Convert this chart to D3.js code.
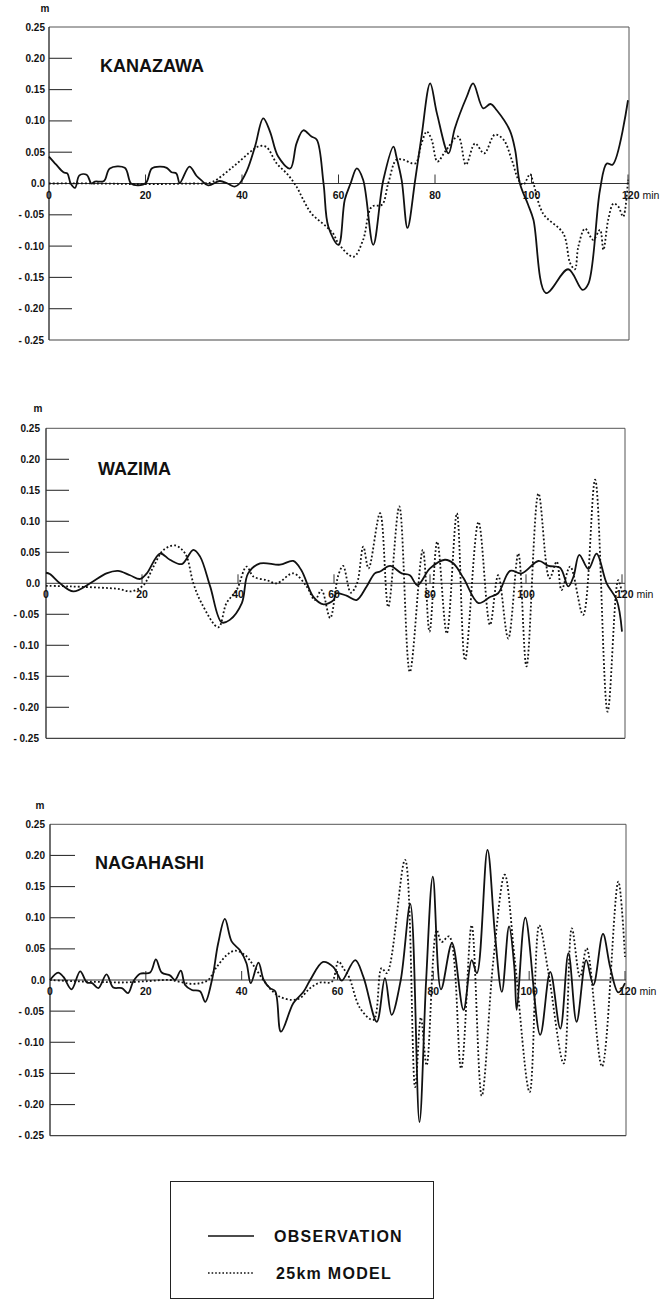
<!DOCTYPE html>
<html><head><meta charset="utf-8">
<script src="https://cdn.jsdelivr.net/npm/d3@7"></script>
<style>body{margin:0;background:#fff;} svg{display:block;} text{font-family:"Liberation Sans",Arial,sans-serif;}</style>
</head><body>
<svg id="chart" width="672" height="1306"></svg>
<script>
// ---------------- DATA ----------------
const stationNames = ["KANAZAWA", "WAZIMA", "NAGAHASHI"];
const xTickValues = [0, 20, 40, 60, 80, 100, 120];
const yTickValues = [0.25, 0.20, 0.15, 0.10, 0.05, 0.0, -0.05, -0.10, -0.15, -0.20, -0.25];
const legendLabels = ["OBSERVATION", "25km MODEL"];

// KANAZAWA observation  [minute, metres]
const kanazawaObs = [[0,0.043],[1.5,0.03],[3,0.018],[3.8,0.016],[4.5,0.0],[5.4,-0.007],[6.3,0.013],[7.8,0.014],[8.8,0.0],[9.5,0.003],[11.4,0.004],[12.6,0.024],[15.7,0.025],[17,0.0],[18.5,-0.003],[20.1,0.001],[21.3,0.024],[23,0.027],[24.4,0.025],[25.4,0.018],[26.4,0.016],[27.1,0.001],[29.1,0.027],[30.6,0.012],[31.6,0.005],[33,-0.003],[35.4,0.004],[37,0.0],[38.5,-0.005],[39.5,0.0],[41,0.02],[42.7,0.059],[44.4,0.104],[45.8,0.083],[47.5,0.043],[50,0.024],[51.3,0.064],[52.7,0.085],[54.4,0.075],[55.5,0.07],[56.9,0.0],[57.9,-0.069],[60,-0.098],[61.3,-0.026],[62.5,0.0],[63.8,0.024],[65.1,0.006],[67.2,-0.098],[69.3,0.006],[71.4,0.059],[72,0.043],[73.1,0.005],[74.3,-0.071],[75.9,0.006],[77.2,0.075],[79,0.16],[80.4,0.112],[82.8,0.048],[84.1,0.088],[86.6,0.139],[87.9,0.16],[90,0.12],[91.5,0.127],[92.8,0.117],[95.5,0.085],[96.6,0.054],[97.6,0.0],[99.3,-0.034],[100.4,-0.058],[103,-0.175],[107.6,-0.137],[110.6,-0.17],[111.8,-0.16],[114.2,-0.01],[115.6,0.032],[116.8,0.03],[120,0.133]];
// KANAZAWA 25km model
const kanazawaModel = [[0,0.0],[10,0.0],[20,-0.001],[30,0.0],[32,0.0],[34,0.003],[38.2,0.027],[42.3,0.054],[43.7,0.06],[45.1,0.058],[47.2,0.032],[49.4,0.015],[51.3,-0.005],[52.7,-0.026],[54.4,-0.048],[57.5,-0.069],[58.9,-0.08],[60,-0.096],[63.1,-0.117],[65.1,-0.09],[66.9,-0.037],[69,-0.034],[70.3,0.0],[72,0.038],[73.4,0.038],[75.9,0.032],[77.2,0.064],[78.3,0.083],[79.3,0.07],[80.5,0.035],[82.1,0.051],[84.8,0.075],[86.4,0.03],[88.3,0.064],[90.2,0.048],[92.4,0.078],[94.2,0.07],[95.9,0.038],[97.3,0.006],[98.3,-0.002],[99.7,0.015],[100.4,0.0],[102.4,-0.048],[106.6,-0.08],[108,-0.127],[109,-0.137],[109.7,-0.101],[111.1,-0.072],[112.8,-0.09],[114.2,-0.074],[114.9,-0.106],[115.9,-0.058],[117,-0.032],[118,-0.037],[119,-0.053],[120,0.006]];

// WAZIMA observation
const wazimaObs = [[0,0.017],[0.8,0.015],[2.9,0.0],[5.7,-0.013],[9.2,0.0],[12.6,0.016],[15,0.02],[17.5,0.013],[19.6,0.007],[21,0.016],[23.75,0.048],[25.8,0.038],[28.3,0.031],[30.7,0.054],[32.1,0.043],[34.2,-0.005],[36.6,-0.063],[38.3,-0.059],[40.8,-0.032],[42.1,0.016],[44.6,0.032],[48.75,0.03],[51.5,0.036],[53.2,0.021],[55.7,-0.022],[57.8,-0.034],[59.9,-0.027],[60.5,-0.016],[62.6,-0.02],[64.7,-0.027],[66.8,-0.005],[68.5,0.016],[69.6,0.019],[71.7,0.028],[74.1,0.016],[75.8,0.013],[77.4,-0.003],[80,0.024],[83.1,0.038],[84.9,0.032],[87,0.008],[90.1,-0.032],[92.5,-0.022],[94.2,-0.016],[96.7,0.02],[99.1,0.016],[102.6,0.036],[104.7,0.028],[107.1,0.025],[108.8,-0.005],[109.9,0.011],[111.1,0.046],[113,0.023],[114.7,0.048],[116.8,0.0],[118.9,-0.027],[120,-0.078]];
// WAZIMA 25km model
const wazimaModel = [[0,-0.004],[5,-0.005],[11.25,-0.007],[15,-0.009],[17.8,-0.013],[20.3,-0.003],[22.4,0.027],[24.5,0.054],[26.9,0.061],[29,0.048],[30.7,0.0],[32.4,-0.032],[35.9,-0.071],[37.6,-0.032],[39.7,-0.011],[41.8,0.027],[43.2,0.011],[46,0.005],[48.1,0.0],[51.5,0.016],[54.3,-0.005],[56,-0.027],[57.4,-0.011],[59.2,-0.056],[60.9,0.013],[61.9,0.028],[63.5,-0.015],[64.8,0.0],[66.1,0.059],[67.2,0.024],[69.6,0.113],[71.3,-0.038],[73.6,0.124],[75.8,-0.143],[78.5,0.054],[79.9,-0.078],[81.5,0.067],[83.5,-0.081],[85.6,0.113],[87.3,-0.124],[90.1,0.099],[92.5,-0.067],[94.2,0.013],[96.3,-0.089],[98.4,0.048],[100.1,-0.134],[102.6,0.145],[104.9,0.008],[106.4,0.035],[107.4,-0.011],[109.2,0.027],[111.9,-0.051],[114.4,0.167],[117,-0.207],[119.2,0.005],[120,-0.015]];

// NAGAHASHI observation
const nagahashiObs = [[0,0.0],[1.7,0.012],[2.8,0.005],[4.5,-0.015],[6.3,0.014],[7.7,-0.004],[8.8,-0.005],[10.1,-0.013],[11.8,0.009],[13.2,-0.012],[15,-0.013],[16.3,-0.021],[17.4,-0.002],[18.8,0.01],[20.9,0.012],[22.1,0.033],[23.3,0.012],[25.1,0.007],[26.1,0.0],[27.3,0.015],[28.2,-0.008],[29.6,-0.016],[31.3,-0.018],[32.4,-0.035],[33.8,0.0],[35.1,0.059],[36.5,0.098],[37.9,0.062],[39.6,0.048],[41,0.027],[41.9,-0.005],[43.5,0.028],[44.6,0.0],[45.9,-0.013],[47,-0.018],[48.2,-0.083],[50.8,-0.037],[52.9,-0.019],[54.3,0.0],[57,0.029],[59.1,0.021],[60.1,0.008],[60.9,-0.001],[63.7,0.032],[65.4,0.005],[68.2,-0.067],[69.9,0.003],[71.3,-0.056],[73.2,0.0],[75.2,0.122],[77.1,-0.228],[78.5,0.0],[79.9,0.166],[81.6,-0.015],[83.9,0.059],[86.3,-0.048],[88,0.032],[89.1,0.011],[91.3,0.209],[92.9,0.07],[94.3,-0.019],[95.8,0.086],[96.9,0.021],[97.4,-0.048],[99.2,0.1],[102.3,-0.088],[104.4,0.013],[106.5,-0.078],[108.2,0.043],[109.9,-0.067],[111.9,0.032],[113.4,-0.008],[115.4,0.074],[116.9,0.021],[118.6,-0.02],[120,-0.005]];
// NAGAHASHI 25km model
const nagahashiModel = [[0,0.0],[5,-0.002],[10,-0.003],[15,-0.004],[20,-0.002],[25,0.0],[27.1,-0.003],[29.2,-0.006],[31.3,-0.005],[33,0.0],[34.8,0.021],[36.9,0.04],[38.6,0.047],[40.7,0.04],[42.4,0.024],[44.5,0.0],[46.2,-0.016],[48,-0.027],[50.5,-0.032],[52.2,-0.029],[54.3,-0.013],[56.4,-0.004],[58.8,-0.003],[60.2,0.03],[61.2,0.019],[62.4,0.005],[64.7,-0.045],[67.5,-0.064],[69.2,0.019],[70.3,0.011],[74.1,0.193],[76.2,-0.172],[77.4,-0.06],[78.6,-0.137],[80.7,0.08],[81.7,0.061],[83.3,0.07],[85.8,-0.142],[88,0.088],[90.1,-0.186],[92.5,0.03],[94.9,0.169],[97,0.032],[100.1,-0.18],[102.1,0.088],[104,0.013],[107.2,-0.134],[108.9,0.083],[110.6,0.005],[112,0.051],[115.2,-0.139],[118.6,0.158],[120,0.037]];

const stationObs = [kanazawaObs, wazimaObs, nagahashiObs];
const stationModel = [kanazawaModel, wazimaModel, nagahashiModel];

// ---------------- LAYOUT ----------------
const layout = [
  {x0:49, x1:628, xR:629, yTop:27,    yBot:340,    tickEnd:72, labelX:45, mX:45, mY:12,  titleX:100, titleY:72},
  {x0:46, x1:622, xR:625, yTop:428.3, yBot:738.3,  tickEnd:69, labelX:40, mX:38, mY:412, titleX:98,  titleY:475},
  {x0:50, x1:625, xR:626, yTop:824.3, yBot:1135.7, tickEnd:75, labelX:45, mX:40, mY:809, titleX:95,  titleY:869}
];

const svg = d3.select("#chart");
const fmtY = v => v > 0.0001 ? v.toFixed(2) : (v < -0.0001 ? "- " + Math.abs(v).toFixed(2) : "0.0");

stationNames.forEach((name, i) => {
  const L = layout[i];
  const x = d3.scaleLinear().domain([0,120]).range([L.x0, L.x1]);
  const y = d3.scaleLinear().domain([-0.25,0.25]).range([L.yBot, L.yTop]);
  const g = svg.append("g");

  // frame
  g.append("line").attr("x1",L.x0).attr("x2",L.xR).attr("y1",L.yTop).attr("y2",L.yTop).attr("stroke","#555").attr("stroke-width",1);
  g.append("line").attr("x1",L.x0).attr("x2",L.xR).attr("y1",L.yBot).attr("y2",L.yBot).attr("stroke","#444").attr("stroke-width",1.2);
  g.append("line").attr("x1",L.xR).attr("x2",L.xR).attr("y1",L.yTop).attr("y2",L.yBot).attr("stroke","#555").attr("stroke-width",1);
  g.append("line").attr("x1",L.x0).attr("x2",L.x0).attr("y1",L.yTop).attr("y2",L.yBot).attr("stroke","#333").attr("stroke-width",1.4);

  // zero line
  g.append("line").attr("x1",L.x0).attr("x2",L.xR).attr("y1",y(0)).attr("y2",y(0)).attr("stroke","#333").attr("stroke-width",1);

  // y ticks + labels
  yTickValues.forEach(v => {
    if (Math.abs(v) < 0.249 && Math.abs(v) > 0.001) {
      g.append("line").attr("x1",L.x0).attr("x2",L.tickEnd).attr("y1",y(v)).attr("y2",y(v)).attr("stroke","#333").attr("stroke-width",1.1);
    }
    g.append("text").attr("x",L.labelX - (v < -0.001 ? 1 : 0)).attr("y",y(v)+3.5).attr("text-anchor","end")
      .attr("font-size",10).attr("font-weight","bold").attr("fill","#111").text(fmtY(v));
  });
  g.append("text").attr("x",L.mX).attr("y",L.mY).attr("text-anchor","middle").attr("font-size",10).attr("font-weight","bold").attr("fill","#111").text("m");

  // x ticks + labels
  xTickValues.forEach(t => {
    if (t > 0) g.append("line").attr("x1",x(t)).attr("x2",x(t)).attr("y1",y(0)).attr("y2",y(0)-9).attr("stroke","#333").attr("stroke-width",1);
    const tx = g.append("text").attr("x",x(t)).attr("y",y(0)+15).attr("text-anchor", t === 120 ? "start" : "middle")
      .attr("font-size",10.5).attr("font-weight","bold").attr("fill","#111");
    if (t === 120) {
      tx.attr("x", x(t)-6).text("120");
      tx.append("tspan").attr("font-weight","normal").text(" min");
    } else tx.text(t);
  });

  // title
  g.append("text").attr("x",L.titleX).attr("y",L.titleY).attr("font-size",18).attr("font-weight","bold").attr("fill","#111").text(name);

  // series
  const line = d3.line().x(d => x(d[0])).y(d => y(d[1])).curve(d3.curveCatmullRom.alpha(0.5));
  g.append("path").datum(stationModel[i]).attr("d",line).attr("fill","none").attr("stroke","#111")
    .attr("stroke-width",1.8).attr("stroke-dasharray","1.8,2.2");
  g.append("path").datum(stationObs[i]).attr("d",line).attr("fill","none").attr("stroke","#111")
    .attr("stroke-width",1.8).attr("stroke-linejoin","round");
});

// ---------------- LEGEND ----------------
const lg = svg.append("g");
lg.append("rect").attr("x",170.5).attr("y",1181.5).attr("width",263).attr("height",117).attr("fill","none").attr("stroke","#222").attr("stroke-width",1);
legendLabels.forEach((lab, i) => {
  const yy = i === 0 ? 1236 : 1273;
  lg.append("line").attr("x1",208).attr("x2",254).attr("y1",yy).attr("y2",yy).attr("stroke","#111").attr("stroke-width",1.6)
    .attr("stroke-dasharray", i === 0 ? null : "1.6,2");
  lg.append("text").attr("x", i === 0 ? 274 : 276).attr("y", yy + 6).attr("font-size",16).attr("font-weight","bold")
    .attr("letter-spacing",1.3).attr("fill","#111").text(lab);
});
</script>
</body></html>
